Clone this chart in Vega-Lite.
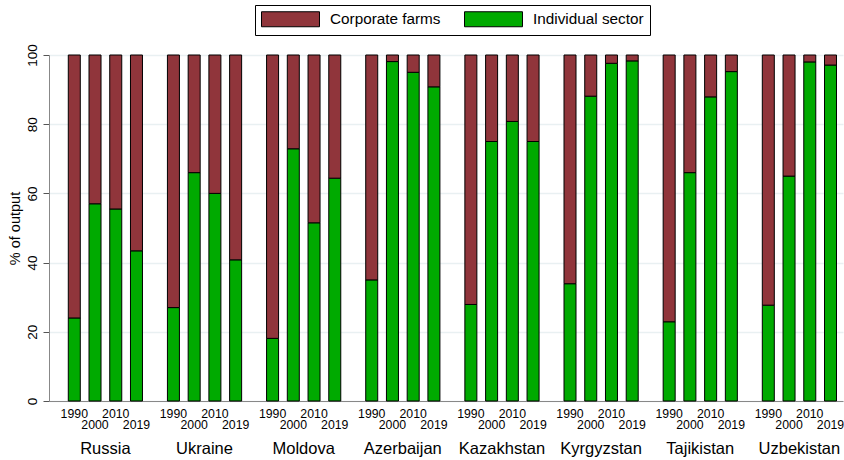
{
  "$schema": "https://vega.github.io/schema/vega-lite/v6.json",
  "width": 794,
  "height": 346,
  "autosize": {"type": "none"},
  "padding": {"left": 49, "top": 55, "right": 1, "bottom": 59},
  "background": "white",
  "config": {
    "font": "Liberation Sans",
    "view": {"stroke": null},
    "legend": {
      "orient": "none",
      "legendX": 206,
      "legendY": -50,
      "direction": "horizontal",
      "title": null,
      "symbolType": "M-1,-1L6.733,-1L6.733,1L-1,1Z",
      "symbolSize": 225,
      "symbolStrokeColor": "black",
      "symbolStrokeWidth": 1,
      "symbolOpacity": 1,
      "labelFont": "Liberation Sans",
      "labelFontSize": 15.3,
      "labelColor": "black",
      "labelOffset": 53,
      "columnPadding": 21,
      "padding": 6,
      "strokeColor": "black"
    }
  },
  "data": {
    "values": [
      {"country": "Russia", "year": "1990", "sector": "Individual sector", "value": 24},
      {"country": "Russia", "year": "2000", "sector": "Individual sector", "value": 57},
      {"country": "Russia", "year": "2010", "sector": "Individual sector", "value": 55.5},
      {"country": "Russia", "year": "2019", "sector": "Individual sector", "value": 43.4},
      {"country": "Ukraine", "year": "1990", "sector": "Individual sector", "value": 27},
      {"country": "Ukraine", "year": "2000", "sector": "Individual sector", "value": 66},
      {"country": "Ukraine", "year": "2010", "sector": "Individual sector", "value": 60},
      {"country": "Ukraine", "year": "2019", "sector": "Individual sector", "value": 40.8},
      {"country": "Moldova", "year": "1990", "sector": "Individual sector", "value": 18.1},
      {"country": "Moldova", "year": "2000", "sector": "Individual sector", "value": 72.9},
      {"country": "Moldova", "year": "2010", "sector": "Individual sector", "value": 51.5},
      {"country": "Moldova", "year": "2019", "sector": "Individual sector", "value": 64.4},
      {"country": "Azerbaijan", "year": "1990", "sector": "Individual sector", "value": 35},
      {"country": "Azerbaijan", "year": "2000", "sector": "Individual sector", "value": 98.1},
      {"country": "Azerbaijan", "year": "2010", "sector": "Individual sector", "value": 95},
      {"country": "Azerbaijan", "year": "2019", "sector": "Individual sector", "value": 90.8},
      {"country": "Kazakhstan", "year": "1990", "sector": "Individual sector", "value": 27.9},
      {"country": "Kazakhstan", "year": "2000", "sector": "Individual sector", "value": 75},
      {"country": "Kazakhstan", "year": "2010", "sector": "Individual sector", "value": 80.8},
      {"country": "Kazakhstan", "year": "2019", "sector": "Individual sector", "value": 75},
      {"country": "Kyrgyzstan", "year": "1990", "sector": "Individual sector", "value": 33.9},
      {"country": "Kyrgyzstan", "year": "2000", "sector": "Individual sector", "value": 88.1},
      {"country": "Kyrgyzstan", "year": "2010", "sector": "Individual sector", "value": 97.6},
      {"country": "Kyrgyzstan", "year": "2019", "sector": "Individual sector", "value": 98.3},
      {"country": "Tajikistan", "year": "1990", "sector": "Individual sector", "value": 22.9},
      {"country": "Tajikistan", "year": "2000", "sector": "Individual sector", "value": 66},
      {"country": "Tajikistan", "year": "2010", "sector": "Individual sector", "value": 87.9},
      {"country": "Tajikistan", "year": "2019", "sector": "Individual sector", "value": 95.2},
      {"country": "Uzbekistan", "year": "1990", "sector": "Individual sector", "value": 27.7},
      {"country": "Uzbekistan", "year": "2000", "sector": "Individual sector", "value": 65},
      {"country": "Uzbekistan", "year": "2010", "sector": "Individual sector", "value": 98},
      {"country": "Uzbekistan", "year": "2019", "sector": "Individual sector", "value": 97.1},
      {"country": "Russia", "year": "1990", "sector": "Corporate farms", "value": 76},
      {"country": "Russia", "year": "2000", "sector": "Corporate farms", "value": 43},
      {"country": "Russia", "year": "2010", "sector": "Corporate farms", "value": 44.5},
      {"country": "Russia", "year": "2019", "sector": "Corporate farms", "value": 56.6},
      {"country": "Ukraine", "year": "1990", "sector": "Corporate farms", "value": 73},
      {"country": "Ukraine", "year": "2000", "sector": "Corporate farms", "value": 34},
      {"country": "Ukraine", "year": "2010", "sector": "Corporate farms", "value": 40},
      {"country": "Ukraine", "year": "2019", "sector": "Corporate farms", "value": 59.2},
      {"country": "Moldova", "year": "1990", "sector": "Corporate farms", "value": 81.9},
      {"country": "Moldova", "year": "2000", "sector": "Corporate farms", "value": 27.1},
      {"country": "Moldova", "year": "2010", "sector": "Corporate farms", "value": 48.5},
      {"country": "Moldova", "year": "2019", "sector": "Corporate farms", "value": 35.6},
      {"country": "Azerbaijan", "year": "1990", "sector": "Corporate farms", "value": 65},
      {"country": "Azerbaijan", "year": "2000", "sector": "Corporate farms", "value": 1.9},
      {"country": "Azerbaijan", "year": "2010", "sector": "Corporate farms", "value": 5},
      {"country": "Azerbaijan", "year": "2019", "sector": "Corporate farms", "value": 9.2},
      {"country": "Kazakhstan", "year": "1990", "sector": "Corporate farms", "value": 72.1},
      {"country": "Kazakhstan", "year": "2000", "sector": "Corporate farms", "value": 25},
      {"country": "Kazakhstan", "year": "2010", "sector": "Corporate farms", "value": 19.2},
      {"country": "Kazakhstan", "year": "2019", "sector": "Corporate farms", "value": 25},
      {"country": "Kyrgyzstan", "year": "1990", "sector": "Corporate farms", "value": 66.1},
      {"country": "Kyrgyzstan", "year": "2000", "sector": "Corporate farms", "value": 11.9},
      {"country": "Kyrgyzstan", "year": "2010", "sector": "Corporate farms", "value": 2.4},
      {"country": "Kyrgyzstan", "year": "2019", "sector": "Corporate farms", "value": 1.7},
      {"country": "Tajikistan", "year": "1990", "sector": "Corporate farms", "value": 77.1},
      {"country": "Tajikistan", "year": "2000", "sector": "Corporate farms", "value": 34},
      {"country": "Tajikistan", "year": "2010", "sector": "Corporate farms", "value": 12.1},
      {"country": "Tajikistan", "year": "2019", "sector": "Corporate farms", "value": 4.8},
      {"country": "Uzbekistan", "year": "1990", "sector": "Corporate farms", "value": 72.3},
      {"country": "Uzbekistan", "year": "2000", "sector": "Corporate farms", "value": 35},
      {"country": "Uzbekistan", "year": "2010", "sector": "Corporate farms", "value": 2},
      {"country": "Uzbekistan", "year": "2019", "sector": "Corporate farms", "value": 2.9}
    ]
  },
  "encoding": {
    "x": {
      "field": "country",
      "type": "nominal",
      "title": null,
      "scale": {
        "domain": ["Russia", "Ukraine", "Moldova", "Azerbaijan", "Kazakhstan", "Kyrgyzstan", "Tajikistan", "Uzbekistan"],
        "paddingInner": 0.2516,
        "paddingOuter": 0.13,
        "align": 0.748
      },
      "axis": {
        "labelAngle": 0,
        "labelFontSize": 16.5,
        "labelColor": "black",
        "labelPadding": 39.5,
        "ticks": false,
        "tickSize": 0,
        "domainColor": "#888888",
        "domainWidth": 1,
        "grid": false
      }
    },
    "xOffset": {
      "field": "year",
      "type": "nominal",
      "scale": {"domain": ["1990", "2000", "2010", "2019"], "paddingInner": 0.421, "paddingOuter": 0}
    }
  },
  "layer": [
    {
      "mark": {"type": "bar", "stroke": "black", "strokeWidth": 1},
      "encoding": {
        "y": {
          "field": "value",
          "type": "quantitative",
          "stack": "zero",
          "title": "% of output",
          "scale": {"domain": [0, 100], "nice": false},
          "axis": {
            "values": [0, 10, 20, 30, 40, 50, 60, 70, 80, 90, 100],
            "labelExpr": "datum.value % 20 === 0 ? datum.label : ''",
            "labelAngle": -90,
            "labelAlign": "center",
            "labelBaseline": "bottom",
            "labelFontSize": 13.5,
            "labelColor": "black",
            "labelPadding": 4,
            "tickSize": {"condition": {"test": "datum.value % 20 === 0", "value": 6}, "value": 3.5},
            "tickColor": "#555555",
            "domainColor": "#888888",
            "grid": true,
            "gridColor": "#e9f0f2",
            "gridWidth": 1.4,
            "gridOpacity": {"condition": {"test": "datum.value % 20 === 0", "value": 1}, "value": 0},
            "titleFontSize": 14.5,
            "titleColor": "black",
            "titleFontWeight": "normal",
            "titlePadding": 3
          }
        },
        "color": {
          "field": "sector",
          "type": "nominal",
          "scale": {"domain": ["Corporate farms", "Individual sector"], "range": ["#90353B", "#00AA00"]}
        },
        "order": {"field": "sector", "sort": "descending"}
      }
    },
    {
      "transform": [
        {"filter": "datum.sector === 'Individual sector' && (datum.year === '1990' || datum.year === '2010')"}
      ],
      "mark": {"type": "text", "fontSize": 12.3, "color": "black", "baseline": "alphabetic", "dy": 16.6},
      "encoding": {
        "y": {"datum": 0, "type": "quantitative"},
        "text": {"field": "year"}
      }
    },
    {
      "transform": [
        {"filter": "datum.sector === 'Individual sector' && (datum.year === '2000' || datum.year === '2019')"}
      ],
      "mark": {"type": "text", "fontSize": 12.3, "color": "black", "baseline": "alphabetic", "dy": 28.3},
      "encoding": {
        "y": {"datum": 0, "type": "quantitative"},
        "text": {"field": "year"}
      }
    }
  ]
}
